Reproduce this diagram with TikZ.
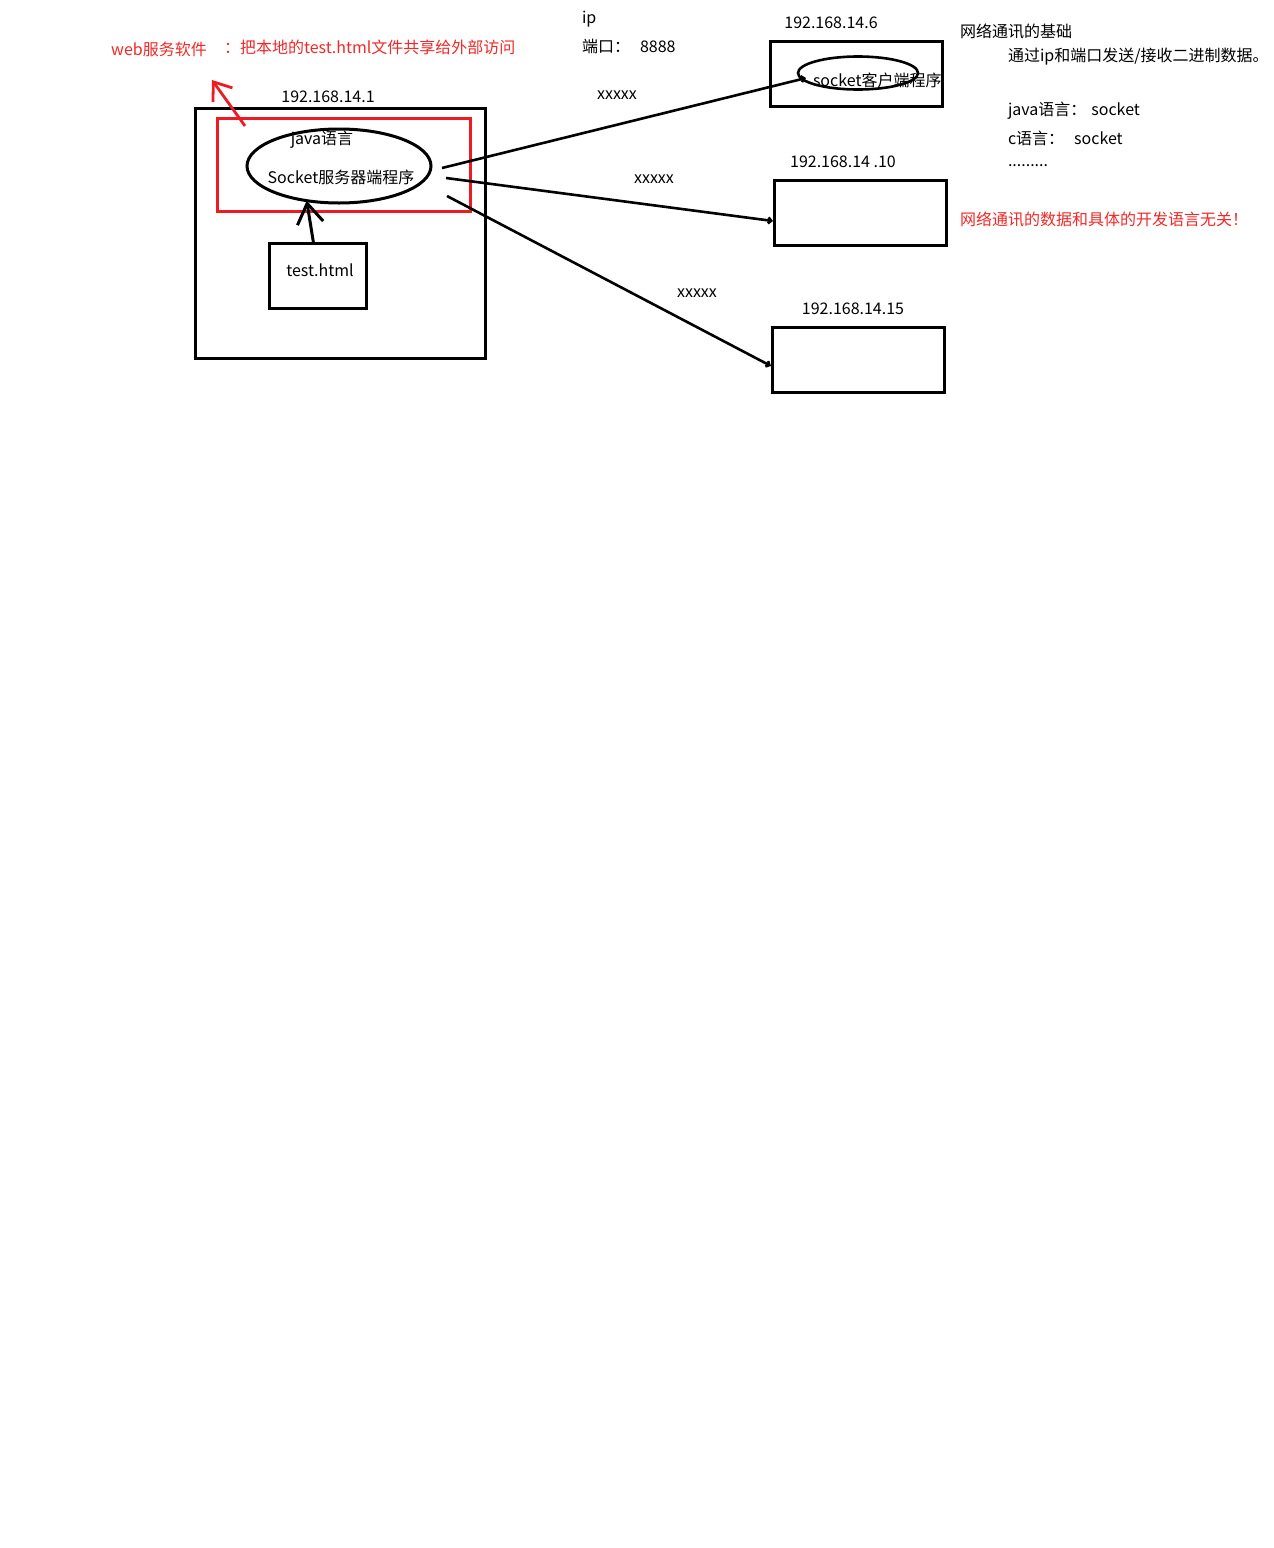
\documentclass[tikz,border=0pt]{standalone}
\usepackage{fontspec}
\setmainfont{Noto Sans CJK SC}
\usetikzlibrary{arrows.meta,shapes.geometric}
\definecolor{mark}{RGB}{237,28,36}
\definecolor{marktext}{RGB}{240,40,40}
\begin{document}
\begin{tikzpicture}[x=1pt,y=-1pt,
  every node/.style={inner sep=0pt,outer sep=0pt,font=\fontsize{16}{19}\selectfont},
  hostbox/.style={draw,line width=3pt,rectangle},
  bubble/.style={draw,line width=3pt,ellipse},
  label/.style={anchor=center},
  lefttext/.style={anchor=west},
  redtext/.style={anchor=west,text=marktext},
  link/.style={line width=2.6pt,-{Straight Barb[length=3pt,width=6pt]}},
  handarrow/.style={line width=3pt,-{Straight Barb[length=20pt,width=26pt]}},
  redarrow/.style={draw=mark,line width=2.8pt,-{Straight Barb[length=16pt,width=24pt]}}
]
\useasboundingbox (0,0) rectangle (1274,1548);

% server host 192.168.14.1
\node[hostbox,minimum width=290pt,minimum height=250pt] (server) at (340,233) {};
\node[label] (serverip) at (328,97) {192.168.14.1};
\node[draw=mark,line width=3pt,minimum width=253pt,minimum height=93pt] (websw) at (343.5,164.5) {};
\node[bubble,minimum width=184pt,minimum height=74pt] (srv) at (339,166) {};
\node[label] (srvlang) at (322,140) {java语言};
\node[label] (srvname) at (341,177) {Socket服务器端程序};
\node[hostbox,minimum width=97pt,minimum height=65pt] (html) at (317.5,275.5) {};
\node[label] (htmlname) at (320,270) {test.html};
\draw[handarrow] (html.north) ++(-4,0) -- (srv.227);

% web server annotation
\node[anchor=center,text=marktext] (webtitle) at (159,49) {web服务软件};
\node[redtext] (webnote) at (224,47) {：把本地的test.html文件共享给外部访问};
\coordinate (webfrom) at (245,126);
\coordinate (webto) at (212,80);
\draw[redarrow] (webfrom) -- (webto);

% address and port
\node[lefttext] (iplabel) at (582,19) {ip};
\node[lefttext] (portlabel) at (582,46) {端口：\hspace{10pt}8888};

% client hosts
\node[hostbox,minimum width=172pt,minimum height=65pt] (host6) at (856,73.5) {};
\node[label] (host6ip) at (831,23) {192.168.14.6};
\node[draw,line width=2.6pt,ellipse,minimum width=120pt,minimum height=33pt] (client) at (858,73) {};
\node[lefttext] (clientname) at (813,80) {socket客户端程序};

\node[hostbox,minimum width=172pt,minimum height=65pt] (host10) at (860,212.5) {};
\node[label] (host10ip) at (843,162) {192.168.14 .10};

\node[hostbox,minimum width=172pt,minimum height=65pt] (host15) at (858,359.5) {};
\node[label] (host15ip) at (853,309) {192.168.14.15};

% connections from the server program
\coordinate (out1) at (442,168);
\coordinate (out2) at (446,178);
\coordinate (out3) at (447,196);
\coordinate (in6) at (806,78);
\coordinate (in10) at (773,221);
\coordinate (in15) at (771,366);
\draw[link] (out1) -- (in6);
\draw[link] (out2) -- (in10);
\draw[link] (out3) -- (in15);
\node[label] (data1) at (617,95) {xxxxx};
\node[label] (data2) at (654,179) {xxxxx};
\node[label] (data3) at (697,293) {xxxxx};

% notes
\node[lefttext] (note1) at (960,31) {网络通讯的基础};
\node[lefttext] (note2) at (1008,57) {通过ip和端口发送/接收二进制数据。};
\node[lefttext] (note3) at (1008,111) {java语言：\hspace{5pt}socket};
\node[lefttext] (note4) at (1008,138) {c语言：\hspace{10pt}socket};
\node[lefttext] (note5) at (1008,166) {.........};
\node[redtext] (note6) at (960,219) {网络通讯的数据和具体的开发语言无关！};
\end{tikzpicture}
\end{document}
